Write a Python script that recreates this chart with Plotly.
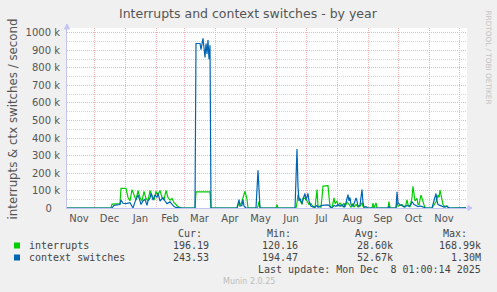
import plotly.graph_objects as go
import pandas as pd

# ---- data (day offsets since 2024-11-04, values in thousands per second) ----
start = pd.Timestamp("2024-11-04")
span_days = 400

int_day = [0, 44, 45, 53, 54, 59, 61, 63, 65, 67, 69, 71, 73, 75, 77, 79, 81, 83, 85, 87,
           89, 91, 93, 95, 97, 99, 101, 103, 105, 107, 109, 111, 113, 115,
           128, 129, 143, 144,
           170, 172, 174, 176, 178, 180, 181, 190, 191, 192, 193, 209, 210, 211,
           229, 230, 231, 232, 233, 235, 236, 238, 240, 242, 244, 246, 248, 250, 251,
           254, 255, 256, 261, 262, 263, 265, 267, 268, 270, 271, 273, 275, 277, 278,
           280, 282, 284, 286, 287, 289, 291, 293, 295, 296, 297, 305, 306, 307, 309, 310,
           321, 322, 323, 329, 330, 331, 333, 335, 337, 339, 340, 341, 343, 345, 346, 347,
           348, 350, 351, 352, 354, 355, 356, 357, 358, 365, 367, 369, 371, 372, 373, 374,
           375, 376, 378, 380, 381, 383, 399]
int_val = [0, 0, 22, 25, 112, 112, 60, 40, 105, 70, 45, 100, 60, 40, 95, 55, 40, 100, 70, 45,
           95, 75, 100, 60, 45, 100, 60, 45, 55, 30, 20, 8, 3, 0,
           0, 92, 92, 0,
           0, 30, 20, 60, 96, 50, 0, 0, 10, 38, 0, 0, 19, 0,
           0, 30, 77, 60, 45, 20, 55, 55, 40, 20, 25, 5, 0, 105, 10,
           5, 60, 125, 128, 60, 5, 0, 58, 25, 40, 10, 30, 10, 28, 5,
           35, 20, 5, 25, 5, 20, 5, 10, 30, 10, 0, 0, 28, 0, 30, 0,
           0, 37, 0, 0, 37, 10, 15, 20, 5, 20, 46, 20, 5, 60, 124, 90,
           40, 55, 20, 20, 74, 55, 35, 10, 0, 0, 20, 35, 74, 60, 102, 70,
           30, 20, 5, 12, 3, 0, 0.2]

ctx_day = [0, 45, 47, 53, 54, 56, 59, 63, 65, 66, 68, 71, 73, 74, 76, 78, 80, 81, 83, 84,
           86, 88, 90, 91, 93, 96, 98, 100, 103, 105, 107, 109, 115,
           128, 129, 133, 134, 136, 138, 139, 140, 141, 142, 143, 144,
           170, 172, 173, 175, 176, 177, 179, 189, 191, 192, 193,
           228, 230, 231, 232, 233, 235, 236, 238, 239, 241, 242, 244, 246, 248, 250, 251,
           255, 261, 263, 265, 267, 269, 271, 273, 275, 277, 279, 281, 282, 283, 284, 286,
           288, 289, 290, 291, 293, 295, 296, 297, 299, 301,
           321, 322, 323, 329, 330, 331, 333, 336, 338, 340, 342, 344, 345, 347, 349, 351,
           353, 355, 357, 359, 365, 367, 368, 369, 370, 371, 373, 375, 377, 379, 381, 383, 399]
ctx_val = [0, 0, 15, 20, 46, 27, 25, 30, 10, 0, 35, 75, 40, 20, 40, 50, 15, 40, 55, 85,
           45, 75, 60, 85, 40, 60, 40, 25, 35, 20, 8, 3, 0,
           0, 940, 940, 905, 970, 860, 940, 880, 960, 850, 930, 0,
           0, 48, 10, 15, 48, 10, 0, 0, 215, 60, 0,
           0, 337, 120, 40, 55, 25, 50, 83, 45, 83, 40, 10, 8, 5, 15, 5,
           15, 18, 10, 0, 15, 10, 20, 10, 18, 5, 30, 77, 40, 60, 20, 10,
           40, 58, 40, 10, 15, 106, 30, 5, 8, 0,
           0, 10, 0, 0, 93, 30, 18, 10, 5, 15, 10, 20, 37, 20, 15, 8,
           12, 8, 3, 0, 0, 40, 55, 83, 40, 20, 15, 12, 5, 10, 5, 0, 0.24]

y_ticks = [0, 100e3, 200e3, 300e3, 400e3, 500e3, 600e3, 700e3, 800e3, 900e3, 1000e3]
y_ticktext = ["0\u2002\u00a0", "100 k", "200 k", "300 k", "400 k", "500 k", "600 k", "700 k",
              "800 k", "900 k", "1000 k"]
y_minor = [50e3 + 100e3 * i for i in range(10)]

series_names = ["interrupts", "context switches"]
series_colors = ["#00CC00", "#0066B3"]
stats_cur = ["196.19", "243.53"]
stats_min = ["120.16", "194.47"]
stats_avg = ["28.60k", "52.67k"]
stats_max = ["168.99k", "1.30M"]

title = "Interrupts and context switches - by year"
y_title = "interrupts & ctx switches / second"
last_update = "Last update: Mon Dec\u00a0\u00a08 01:00:14 2025"

# ---- figure ----
W, H = 497, 292
ML, MR, MT, MB = 67, 30, 28, 84
PW, PH = W - ML - MR, H - MT - MB


def fx(px):
    return (px - ML) / PW


def fy(py):
    return (H - MB - py) / PH


def to_dates(days):
    return [start + pd.Timedelta(days=d) for d in days]


fig = go.Figure()
fig.add_trace(go.Scatter(x=to_dates(int_day), y=[v * 1000 for v in int_val], mode="lines",
                         line=dict(color=series_colors[0], width=1.2), name=series_names[0],
                         hoverinfo="skip"))
fig.add_trace(go.Scatter(x=to_dates(ctx_day), y=[v * 1000 for v in ctx_val], mode="lines",
                         line=dict(color=series_colors[1], width=1.2), name=series_names[1],
                         hoverinfo="skip"))

axis_col = "#c4c4f4"
grid_major = "#f4b4b4"
grid_minor = "#d6d6d6"
txt = "#555555"

fig.update_layout(
    width=W, height=H, margin=dict(l=ML, r=MR, t=MT, b=MB),
    paper_bgcolor="#F0F0F0", plot_bgcolor="#FFFFFF", showlegend=False,
    font=dict(family="DejaVu Sans", size=10, color=txt),
    xaxis=dict(type="date", range=[start, start + pd.Timedelta(days=span_days)],
               tick0="2024-11-01", dtick="M1", ticklabelmode="period", tickformat="%b",
               showgrid=True, gridcolor=grid_major, griddash="1px,1px", gridwidth=1,
               ticks="", showline=True, linecolor=axis_col, linewidth=1, zeroline=False,
               tickfont=dict(size=10, color=txt), ticklabelstandoff=1, fixedrange=True),
    yaxis=dict(range=[0, 1028500], tickmode="array", tickvals=y_ticks, ticktext=y_ticktext,
               showgrid=True, gridcolor=grid_major, griddash="1px,1px", gridwidth=1,
               minor=dict(tickmode="array", tickvals=y_minor, showgrid=True,
                          gridcolor=grid_minor, griddash="1px,1px", ticks=""),
               ticks="", showline=True, linecolor=axis_col, linewidth=1, zeroline=False,
               tickfont=dict(size=10, color=txt), ticklabelstandoff=4, fixedrange=True),
)

shapes = [
    # axis arrows
    dict(type="path", xref="paper", yref="paper",
         path=f"M {fx(467)} {fy(208)} L {fx(472)} {fy(208)} M {fx(468)} {fy(205.5)} L {fx(472)} {fy(208)} L {fx(468)} {fy(210.5)} Z",
         line=dict(color=axis_col, width=1), fillcolor=axis_col),
    dict(type="path", xref="paper", yref="paper",
         path=f"M {fx(67)} {fy(28)} L {fx(67)} {fy(24)} M {fx(64.5)} {fy(29)} L {fx(67)} {fy(24)} L {fx(69.5)} {fy(29)} Z",
         line=dict(color=axis_col, width=1), fillcolor=axis_col),
]
row_y = [245.5, 257.5]
for i, c in enumerate(series_colors):
    shapes.append(dict(type="rect", xref="paper", yref="paper",
                       x0=fx(14), x1=fx(20), y0=fy(row_y[i] - 3), y1=fy(row_y[i] + 3),
                       line=dict(width=0), fillcolor=c))
fig.update_layout(shapes=shapes)

mono = dict(family="DejaVu Sans Mono", size=10, color="#444444")
ann = []


def add(text, px, py, anchor="left", font=None, angle=0):
    ann.append(dict(text=text, x=fx(px), y=fy(py), xref="paper", yref="paper",
                    xanchor=anchor, yanchor="middle", showarrow=False,
                    font=font or mono, textangle=angle))


add(title, 248, 13.5, "center", dict(family="DejaVu Sans", size=12.5, color="#555555"))
add(y_title, 12, 119.5, "center", dict(family="DejaVu Sans", size=11.8, color=txt), -90)
add("RRDTOOL / TOBI OETIKER", 488.5, 57, "center",
    dict(family="DejaVu Sans", size=7.3, color="#c4c4c4"), 90)

for label, xr in zip(["Cur:", "Min:", "Avg:", "Max:"], [203.5, 292.5, 380.5, 469]):
    add(label, xr, 233, "right")
for i in range(2):
    add(series_names[i], 26.5, row_y[i], "left")
    add(stats_cur[i], 211, row_y[i], "right")
    add(stats_min[i], 300, row_y[i], "right")
    add(stats_avg[i], 394.5, row_y[i], "right")
    add(stats_max[i], 483, row_y[i], "right")
add(last_update, 483, 269.5, "right")
add("Munin 2.0.25", 249, 281, "center", dict(family="DejaVu Sans", size=8, color="#bdbdbd"))

fig.update_layout(annotations=ann)
fig.write_html("out.html", config={"displayModeBar": False})
